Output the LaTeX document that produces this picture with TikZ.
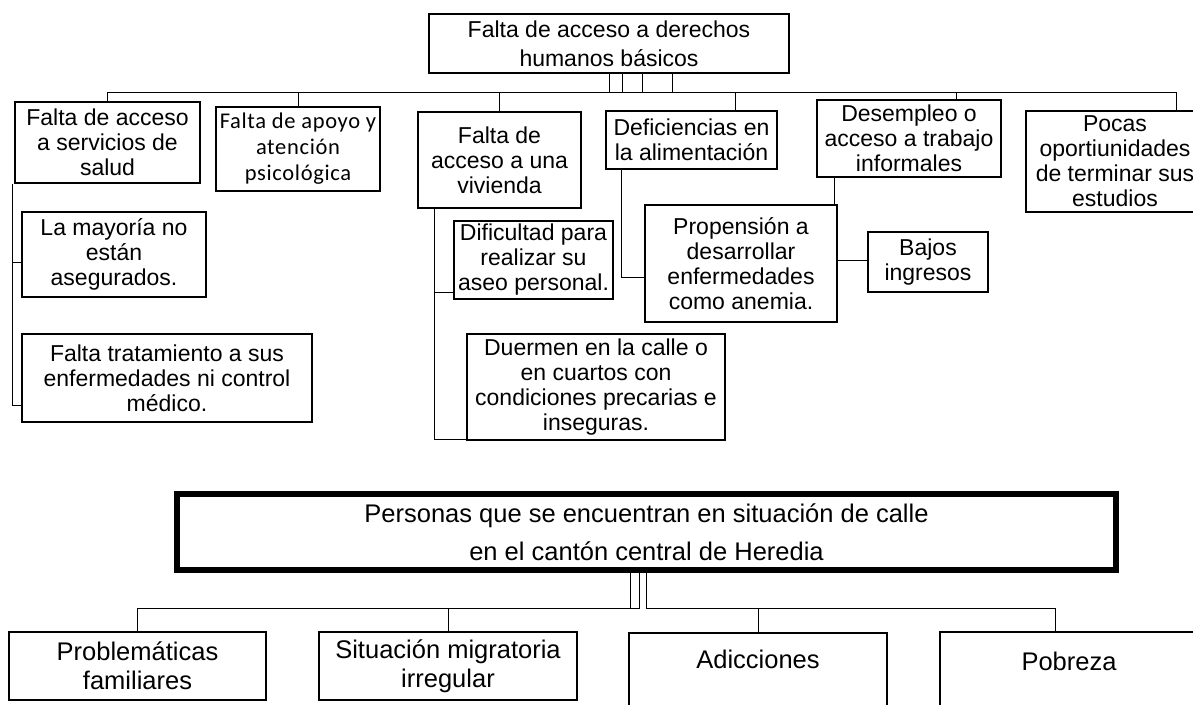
\documentclass[tikz,border=0pt]{standalone}
\usepackage{fontspec}
\setmainfont{Liberation Sans}
\newfontfamily\calfont{Carlito}[LetterSpace=3]
\usetikzlibrary{calc,backgrounds}

\tikzset{every picture/.style={line width=1.6pt}}
\tikzset{
  caja/.style={draw, fill=white, inner sep=0pt, align=center},
  causa/.style={caja, font=\fontsize{23}{25}\selectfont},
  efecto/.style={caja, font=\fontsize{25.5}{29}\selectfont},
}

\begin{document}
\begin{tikzpicture}[x=1pt,y=1pt,yscale=-1,xscale=1]
\useasboundingbox (0,0) rectangle (1193,704);

% Text Node: arbol superior
\node[causa, minimum width=360, minimum height=59, font=\fontsize{23}{29}\selectfont] (derechos) at (609,43.5) {Falta de acceso a derechos\\humanos básicos};
% Text Node
\node[causa, minimum width=185, minimum height=81] (salud) at (107.5,142.5) {Falta de acceso\\a servicios de\\salud};
% Text Node
\node[caja, minimum width=164, minimum height=84, font=\calfont\fontsize{22.5}{26}\selectfont] (apoyo) at (298,149) {Falta de apoyo y\\atención\\psicológica};
% Text Node
\node[causa, minimum width=184, minimum height=85] (mayoria) at (114,254.5) {La mayoría no\\están\\asegurados.};
% Text Node
\node[causa, minimum width=290, minimum height=88] (tratamiento) at (167,378) {Falta tratamiento a sus\\enfermedades ni control\\médico.};
% Text Node
\node[causa, minimum width=163, minimum height=96] (vivienda) at (499.5,160) {Falta de\\acceso a una\\vivienda};
% Text Node
\node[causa, minimum width=159, minimum height=78] (dificultad) at (533.5,260) {Dificultad para\\realizar su\\aseo personal.};
% Text Node
\node[causa, minimum width=258, minimum height=106] (duermen) at (596,387) {Duermen en la calle o\\en cuartos con\\condiciones precarias e\\inseguras.};
% Text Node
\node[causa, minimum width=171, minimum height=58] (deficiencias) at (691.5,140) {Deficiencias en\\la alimentación};
% Text Node
\node[causa, minimum width=192, minimum height=117] (propension) at (741,263.5) {Propensión a\\desarrollar\\enfermedades\\como anemia.};
% Text Node
\node[causa, minimum width=184, minimum height=77] (desempleo) at (909,138.5) {Desempleo o\\acceso a trabajo\\informales};
% Text Node
\node[causa, minimum width=120, minimum height=60] (bajos) at (928,262) {Bajos\\ingresos};
% Text Node
\node[causa, minimum width=178, minimum height=101] (pocas) at (1115,161.5) {Pocas\\oportiunidades\\de terminar sus\\estudios};

% Text Node: problema central
\node[caja, line width=6pt, minimum width=939, minimum height=76, font=\fontsize{25.5}{38}\selectfont] (central) at (646.5,532) {Personas que se encuentran en situación de calle\\en el cantón central de Heredia};

% Text Node: arbol inferior
\node[efecto, minimum width=257, minimum height=68] (problematicas) at (137.5,666) {Problemáticas\\familiares};
% Text Node
\node[efecto, minimum width=258, minimum height=68] (situacion) at (448,666) {Situación migratoria\\irregular};
% Text Node
\node[draw, fill=white, inner sep=0pt, minimum width=258, text height=35.8pt, text depth=51.2pt, font=\fontsize{25.5}{29}\selectfont] (adicciones) at (758,676.5) {Adicciones};
% Text Node
\node[draw, fill=white, inner sep=0pt, minimum width=258, text height=38.8pt, text depth=49.2pt, font=\fontsize{25.5}{29}\selectfont] (pobreza) at (1069,676) {Pobreza};

\begin{scope}[on background layer]
%Straight Lines: de derechos a sus causas
\draw (derechos.south) -- ++(0,18.5) -| (salud.north);
\draw ($(derechos.south)+(13,0)$) -- ++(0,18.5) -| (apoyo.north);
\draw ($(derechos.south)+(33,0)$) -- ++(0,18.5) -| ($(deficiencias.north)+(43.5,0)$);
\draw ($(derechos.south)+(63,0)$) -- ++(0,18.5) -| (vivienda.north);
\draw ($(derechos.south)+(63,0)$) -- ++(0,18.5) -| ($(desempleo.north)+(47,0)$);
\draw ($(derechos.south)+(63,0)$) -- ++(0,18.5) -| ($(pocas.north)+(61,0)$);
%Straight Lines
\draw ($(salud.south west)+(-2,0)$) |- ($(mayoria.west)+(0,7.5)$);
\draw ($(salud.south west)+(-2,0)$) |- ($(tratamiento.west)+(0,27)$);
\draw ($(vivienda.south west)+(17,0)$) |- ($(dificultad.west)+(0,32)$);
\draw ($(vivienda.south west)+(17,0)$) |- ($(duermen.west)+(0,52)$);
\draw ($(deficiencias.south west)+(16,0)$) |- ($(propension.west)+(0,13.5)$);
\draw ($(desempleo.south west)+(18,0)$) |- ($(bajos.west)+(0,-2)$);
%Straight Lines: del problema central hacia abajo
\draw ($(central.south)+(-16.5,0)$) -- ++(0,35) -| (problematicas.north);
\draw ($(central.south)+(-7.5,0)$) -- ++(0,35) -| (situacion.north);
\draw (central.south) -- ++(0,35) -| (adicciones.north);
\draw (central.south) -- ++(0,35) -| ($(pobreza.north)+(-14,0)$);
\end{scope}

\end{tikzpicture}
\end{document}
